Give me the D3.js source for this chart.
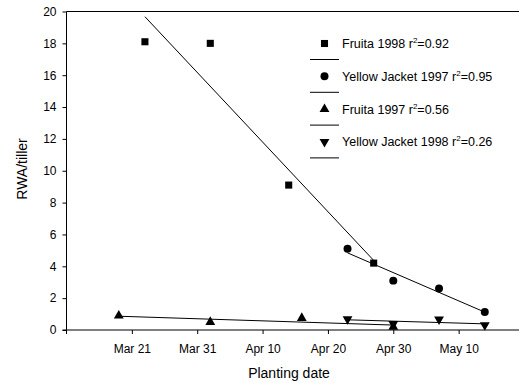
<!DOCTYPE html>
<html><head><meta charset="utf-8">
<script src="https://cdn.jsdelivr.net/npm/d3@7"></script>
<style>body{margin:0;background:#fff}svg{display:block;font-family:"Liberation Sans",Arial,sans-serif}</style>
</head><body><svg id="c" width="519" height="383"></svg>
<script>
const fruita1998Dates = ["03-23","04-02","04-14","04-27"];
const fruita1998Vals  = [18.1, 18.0, 9.1, 4.2];
const yj1997Dates = ["04-23","04-30","05-07","05-14"];
const yj1997Vals  = [5.1, 3.1, 2.6, 1.13];
const fruita1997Dates = ["03-19","04-02","04-16","04-30"];
const fruita1997Vals  = [0.9, 0.5, 0.75, 0.2];
const yj1998Dates = ["04-23","04-30","05-07","05-14"];
const yj1998Vals  = [0.69, 0.38, 0.67, 0.31];
const xTickDates = ["03-21","03-31","04-10","04-20","04-30","05-10"];
const xTickLabels = ["Mar 21","Mar 31","Apr 10","Apr 20","Apr 30","May 10"];
const yTicks = [0,2,4,6,8,10,12,14,16,18,20];
const legendNames = ["Fruita 1998","Yellow Jacket 1997","Fruita 1997","Yellow Jacket 1998"];
const legendR2 = ["0.92","0.95","0.56","0.26"];

const parse = d3.timeParse("%Y-%m-%d");
const pd = s => parse("1998-" + s);

const svg = d3.select("#c");
const L = 66.5, R = 524, T = 11.5, B = 330;
const x = d3.scaleTime().domain([pd("03-11"), pd("05-20")]).range([L, R]);
const y = d3.scaleLinear().domain([0, 20]).range([B, T]);
const FF = "Liberation Sans, Arial, sans-serif";

svg.append("line").attr("x1", L).attr("x2", R).attr("y1", T).attr("y2", T).attr("stroke", "#000");

const yAxis = d3.axisLeft(y).tickValues(yTicks).tickSize(4).tickPadding(6);
const gy = svg.append("g").attr("transform", `translate(${L},0)`).call(yAxis);
gy.select(".domain").attr("d", `M0,${T}V${B}`);
gy.selectAll("text").attr("font-size", 12).attr("font-family", FF).attr("fill","#000");

const xAxis = d3.axisBottom(x).tickValues(xTickDates.map(pd)).tickFormat((d,i) => xTickLabels[i]).tickSize(4).tickPadding(10);
const gx = svg.append("g").attr("transform", `translate(0,${B})`).call(xAxis);
gx.select(".domain").attr("d", `M${L-4},0H${R}M${L},0V4`);
gx.selectAll("text").attr("font-size", 12).attr("font-family", FF).attr("fill","#000");

svg.append("text").attr("x", 289).attr("y", 378).attr("text-anchor", "middle").attr("font-size", 14).text("Planting date");
svg.append("text").attr("transform", "translate(27,169) rotate(-90)").attr("text-anchor", "middle").attr("font-size", 14).text("RWA/tiller");

const series = [
  {dates: fruita1998Dates, vals: fruita1998Vals, sym: d3.symbolSquare, size: 50, rot: 0},
  {dates: yj1997Dates, vals: yj1997Vals, sym: d3.symbolCircle, size: 50, rot: 0},
  {dates: fruita1997Dates, vals: fruita1997Vals, sym: d3.symbolTriangle, size: 42, rot: 0},
  {dates: yj1998Dates, vals: yj1998Vals, sym: d3.symbolTriangle, size: 42, rot: 180}
];

function fit(xs, ys) {
  const mx = d3.mean(xs), my = d3.mean(ys);
  let sxy = 0, sxx = 0;
  xs.forEach((v, i) => { sxy += (v - mx) * (ys[i] - my); sxx += (v - mx) * (v - mx); });
  const b = sxy / sxx;
  return v => my + b * (v - mx);
}

series.forEach(s => {
  const ds = s.dates.map(pd);
  const xs = ds.map(d => +d / 864e5);
  const f = fit(xs, s.vals);
  const ends = [ds[0], ds[ds.length - 1]];
  svg.append("path")
    .attr("d", d3.line().x(d => x(d)).y(d => y(f(+d / 864e5)))(ends))
    .attr("stroke", "#000").attr("fill", "none").attr("stroke-width", 1);
});
series.forEach(s => {
  const ds = s.dates.map(pd);
  svg.append("g").selectAll("path").data(ds).join("path")
    .attr("d", d3.symbol(s.sym, s.size))
    .attr("transform", (d, i) => `translate(${x(d)},${y(s.vals[i])}) rotate(${s.rot})`)
    .attr("fill", "#000");
});

const lg = svg.append("g");
legendNames.forEach((n, i) => {
  const cy = 43.5 + i * 32.8;
  const s = series[i];
  lg.append("path").attr("d", d3.symbol(s.sym, s.size))
    .attr("transform", `translate(324.5,${cy}) rotate(${s.rot})`).attr("fill", "#000");
  lg.append("line").attr("x1", 310).attr("x2", 339).attr("y1", cy + 16).attr("y2", cy + 16).attr("stroke", "#000");
  const t = lg.append("text").attr("x", 342).attr("y", cy + 4.5).attr("font-size", 12.5);
  t.append("tspan").text(n + " r");
  t.append("tspan").attr("font-size", 8).attr("dy", -5).text("2");
  t.append("tspan").attr("dy", 5).text("=" + legendR2[i]);
});
</script></body></html>
